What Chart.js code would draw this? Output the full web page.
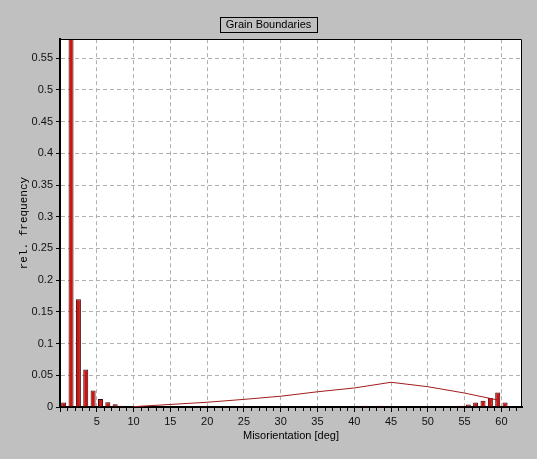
<!DOCTYPE html>
<html>
<head>
<meta charset="utf-8">
<title>Grain Boundaries</title>
<script src="https://cdn.jsdelivr.net/npm/chart.js@4.4.0/dist/chart.umd.min.js"></script>
<style>
  html, body { margin: 0; padding: 0; background: #c0c0c0; }
  #wrap { width: 537px; height: 459px; }
</style>
</head>
<body>
<div id="wrap"><canvas id="gbChart" width="537" height="459"></canvas></div>
<script>
// Misorientation histogram, 1 deg bins (only non-empty bins listed)
const binCenters = [0.5, 1.5, 2.5, 3.5, 4.5, 5.5, 6.5, 7.5, 8.5, 9.5, 41.5, 43.5, 54.5, 55.5, 56.5, 57.5, 58.5, 59.5, 60.5, 61.5];
const relFrequency = [0.007, 0.62, 0.17, 0.059, 0.026, 0.0125, 0.0075, 0.0042, 0.002, 0.001, 0.002, 0.002, 0.002, 0.004, 0.007, 0.010, 0.014, 0.023, 0.007, 0.001];

// Random (Mackenzie) reference curve
const randomAngles = [10, 15, 20, 25, 30, 35, 40, 45, 50, 55, 59.5];
const randomFreq = [0.0005, 0.004, 0.0075, 0.012, 0.017, 0.024, 0.030, 0.039, 0.032, 0.022, 0.011];

// Axis ranges
const xRange = [0, 62.8];
const yRange = [0, 0.58];
const xStep = 5;
const yStep = 0.05;

const sans = 'Liberation Sans, Arial, sans-serif';

// white plot area, thin frame, minor ticks and title box
const framePlugin = {
  id: 'frame',
  beforeDraw(chart) {
    const { ctx, chartArea: a } = chart;
    ctx.save();
    ctx.fillStyle = '#ffffff';
    ctx.fillRect(a.left, a.top, a.right - a.left, a.bottom - a.top);
    ctx.restore();
  },
  afterDraw(chart) {
    const { ctx, chartArea: a } = chart;
    const x = chart.scales.x;
    ctx.save();
    ctx.strokeStyle = '#000';
    ctx.lineWidth = 1;
    ctx.beginPath();
    ctx.moveTo(a.left, Math.round(a.top) + 0.5);
    ctx.lineTo(Math.round(a.right) - 0.5, Math.round(a.top) + 0.5);
    ctx.lineTo(Math.round(a.right) - 0.5, a.bottom);
    ctx.stroke();

    // minor ticks every degree
    ctx.beginPath();
    for (let d = 1; d < x.max; d++) {
      if (d % xStep === 0) continue;
      const px = Math.round(x.getPixelForValue(d)) + 0.5;
      ctx.moveTo(px, a.bottom + 1);
      ctx.lineTo(px, a.bottom + 4);
    }
    ctx.stroke();

    // box round the title
    const t = chart.titleBlock;
    const opts = chart.options.plugins.title;
    ctx.font = '11px ' + sans;
    const w = ctx.measureText(opts.text).width;
    const cx = (t.left + t.right) / 2;
    const cy = t.top + opts.padding.top + 6.6;
    ctx.strokeRect(Math.round(cx - w / 2 - 6) + 0.5, Math.round(cy - 8) + 0.5, Math.round(w + 11), 15);
    ctx.restore();
  }
};

const ctx = document.getElementById('gbChart').getContext('2d');
const chart = new Chart(ctx, {
  type: 'bar',
  data: {
    datasets: [
      {
        type: 'line',
        data: randomAngles.map((a, i) => ({ x: a, y: randomFreq[i] })),
        borderColor: '#a31c1c',
        borderWidth: 1,
        pointRadius: 0,
        tension: 0,
        fill: false,
        order: 1
      },
      {
        type: 'bar',
        data: binCenters.map((c, i) => ({ x: c, y: relFrequency[i] })),
        backgroundColor: '#cc1414',
        borderColor: '#3a0000',
        borderWidth: 1,
        borderSkipped: 'start',
        barPercentage: 0.68,
        categoryPercentage: 1,
        order: 2
      }
    ]
  },
  options: {
    responsive: false,
    animation: false,
    devicePixelRatio: 1,
    layout: { padding: 0 },
    plugins: {
      legend: { display: false },
      tooltip: { enabled: false },
      title: {
        display: true,
        text: 'Grain Boundaries',
        color: '#000',
        font: { family: sans, size: 11, weight: 'normal' },
        padding: { top: 18, bottom: 8 }
      }
    },
    scales: {
      x: {
        type: 'linear',
        min: xRange[0],
        max: xRange[1],
        offset: false,
        afterFit: s => { s.height = 52; },
        grid: {
          offset: false,
          color: '#b0b0b0',
          tickColor: '#000',
          tickLength: 5,
          tickWidth: 1
        },
        border: { display: true, color: '#000', width: 2, dash: [4, 3] },
        ticks: {
          stepSize: xStep,
          includeBounds: false,
          padding: 3,
          color: '#111',
          maxRotation: 0,
          font: { family: sans, size: 11 },
          callback: v => (v === 0 ? '' : String(v))
        },
        title: {
          display: true,
          text: 'Misorientation [deg]',
          color: '#000',
          font: { family: sans, size: 11 },
          padding: { top: 0, bottom: 16 }
        }
      },
      y: {
        min: yRange[0],
        max: yRange[1],
        afterFit: s => { s.width = 60; },
        grid: {
          color: '#b0b0b0',
          tickColor: '#000',
          tickLength: 4,
          tickWidth: 1
        },
        border: { display: true, color: '#000', width: 2, dash: [4, 3] },
        ticks: {
          stepSize: yStep,
          includeBounds: false,
          padding: 3,
          color: '#111',
          font: { family: sans, size: 11 },
          callback: v => String(+v.toFixed(2))
        },
        title: {
          display: true,
          text: 'rel. frequency',
          color: '#000',
          font: { family: 'Liberation Mono, Courier New, monospace', size: 11 },
          padding: { top: 17, bottom: 0 }
        }
      },
      // empty right margin so the title stays centred on the canvas
      yRight: {
        position: 'right',
        min: yRange[0],
        max: yRange[1],
        afterFit: s => { s.width = 15; },
        grid: { display: false, drawTicks: false },
        border: { display: false },
        ticks: { display: false }
      }
    }
  },
  plugins: [framePlugin]
});
</script>
</body>
</html>
